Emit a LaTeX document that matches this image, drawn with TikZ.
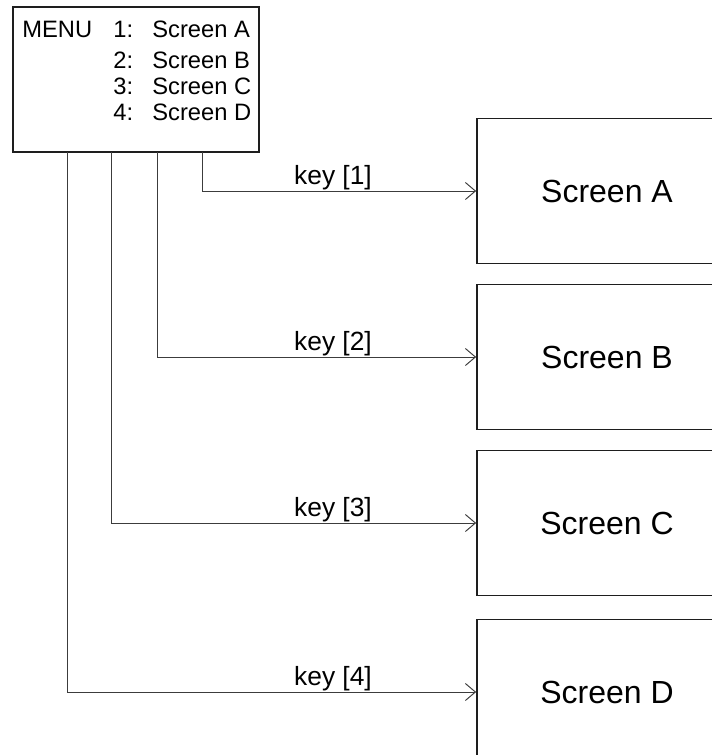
\documentclass[tikz,border=0pt]{standalone}
\usepackage{fontspec}
\setmainfont{Liberation Sans}
\usepackage{tikz}
\usetikzlibrary{arrows.meta,positioning}
\definecolor{inkx}{HTML}{1E1E1E}
\definecolor{wirex}{HTML}{3C3C3C}
\tikzset{
  ar/.style={-{Straight Barb[length=2mm,width=3.4mm]},line width=0.55pt,wirex},
  scrbox/.style={draw=inkx,line width=1pt,minimum width=5.2cm,minimum height=2.9cm,inner sep=0pt,font=\fontsize{18.2}{20}\selectfont},
  menubox/.style={draw=inkx,line width=1pt,minimum width=4.92cm,minimum height=2.9cm,inner sep=0pt},
  mtxt/.style={anchor=base west,inner sep=0pt,font=\fontsize{13.5}{15}\selectfont},
  keylbl/.style={above,inner sep=0.6pt,font=\fontsize{15}{17}\selectfont}
}
\begin{document}
\begin{tikzpicture}[x=0.02cm,y=-0.02cm]
\useasboundingbox (0,0) rectangle (711,755);
% menu panel
\node[menubox] (menu) at (136,79.5) {};
\node[mtxt] (mhead) at (22,37) {MENU};
\node[mtxt] (n1) at (113,37) {1:};
\node[mtxt] (n2) at (113,68) {2:};
\node[mtxt] (n3) at (113,94) {3:};
\node[mtxt] (n4) at (113,120) {4:};
\node[mtxt] (m1) at (152,37) {Screen A};
\node[mtxt] (m2) at (152,68) {Screen B};
\node[mtxt] (m3) at (152,94) {Screen C};
\node[mtxt] (m4) at (152,120) {Screen D};
% target screens
\node[scrbox] (scrA) at (607,191) {Screen A};
\node[scrbox] (scrB) at (607,357) {Screen B};
\node[scrbox] (scrC) at (607,523) {Screen C};
\node[scrbox] (scrD) at (607,692) {Screen D};
% wires
\coordinate (t1) at (202,152);
\coordinate (t2) at (157,152);
\coordinate (t3) at (111,152);
\coordinate (t4) at (67,152);
\draw[ar] (t1) |- (scrA.west);
\draw[ar] (t2) |- (scrB.west);
\draw[ar] (t3) |- (scrC.west);
\draw[ar] (t4) |- (scrD.west);
\node[keylbl] (k1) at (333,191) {key [1]};
\node[keylbl] (k2) at (333,357) {key [2]};
\node[keylbl] (k3) at (333,523) {key [3]};
\node[keylbl] (k4) at (333,692) {key [4]};
\end{tikzpicture}
\end{document}
